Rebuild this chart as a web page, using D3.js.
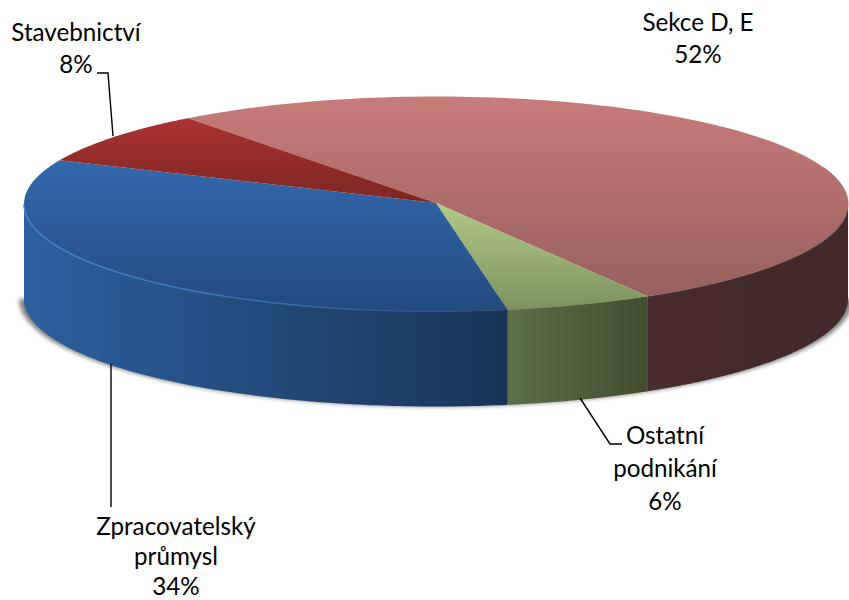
<!DOCTYPE html>
<html><head><meta charset="utf-8">
<script src="https://cdn.jsdelivr.net/npm/d3@7"></script>
<style>html,body{margin:0;padding:0;background:#fff}svg{display:block}</style>
</head><body><svg id="c" width="849" height="600"></svg>
<script>
const categories = ["Sekce D, E", "Ostatní podnikání", "Zpracovatelský průmysl", "Stavebnictví"];
const values = [51.7, 5.8, 34.45, 8.05];
const labelLines = [["Sekce D, E"], ["Ostatní", "podnikání"], ["Zpracovatelský", "průmysl"], ["Stavebnictví"]];
const topColorsStart = ["#c77c79", "#b2c986", "#3369ad", "#ab3232"];
const topColorsEnd = ["#98605e", "#7d9260", "#234b7f", "#7d2625"];
const wallColorsStart = ["#472d2c", "#5c7048", "#2c619f", "#000"];
const wallColorsEnd = ["#422a2a", "#414e2f", "#1a3357", "#000"];
const labelX = [698, 665, 176, 76];
const labelBaselines = [[31, 63], [444, 477, 510], [535, 565, 595], [41, 73]];
const leaders = [null, [[580,398],[610,444],[622,444]], [[111,364],[111,507]], [[97,73],[108,73],[113,136]]];

const W = 849, H = 600, cx = 436, cy = 204, rx = 412, ry = 107.5, depth = 95;
const deg = Math.PI / 180;
const svg = d3.select("#c");
const defs = svg.append("defs");
const x = d3.scaleLinear().domain([-1, 1]).range([cx - rx, cx + rx]);
const y = d3.scaleLinear().domain([-1, 1]).range([cy - ry, cy + ry]);
const pie = d3.pie().sort(null).startAngle(-37 * deg).endAngle(323 * deg);
const arcs = pie(values);

const px = a => x(Math.sin(a));
const py = a => y(-Math.cos(a));
const line = d3.line();
const sample = (a0, a1, dy = 0) => d3.range(0, 121).map(i => {
  const a = a0 + (a1 - a0) * i / 120;
  return [px(a), py(a) + dy];
});

function grad(id, c0, c1, horizontal) {
  const g = defs.append("linearGradient").attr("id", id)
    .attr("x1", 0).attr("y1", 0).attr("x2", horizontal ? 1 : 0).attr("y2", horizontal ? 0 : 1);
  g.append("stop").attr("offset", 0).attr("stop-color", c0);
  g.append("stop").attr("offset", 1).attr("stop-color", c1);
}
arcs.forEach((d, i) => {
  grad("top" + i, topColorsStart[i], topColorsEnd[i], false);
  grad("wall" + i, wallColorsStart[i], wallColorsEnd[i], true);
});
defs.append("filter").attr("id", "blur").attr("x", "-5%").attr("y", "-10%").attr("width", "110%").attr("height", "120%")
  .append("feGaussianBlur").attr("stdDeviation", 2.2);
const rimG = defs.append("linearGradient").attr("id", "rimBlue").attr("gradientUnits", "userSpaceOnUse")
  .attr("x1", cx - rx).attr("x2", 508).attr("y1", 0).attr("y2", 0);
rimG.append("stop").attr("offset", 0).attr("stop-color", "#4a86cc");
rimG.append("stop").attr("offset", 0.55).attr("stop-color", "#3a6fae");
rimG.append("stop").attr("offset", 1).attr("stop-color", "#2b5a94").attr("stop-opacity", 0);

// soft shadow behind the body
svg.append("path")
  .attr("d", line(sample(90 * deg, 270 * deg, depth)) + "Z")
  .attr("fill", "#808080").attr("filter", "url(#blur)")
  .attr("transform", `translate(${cx} ${cy + depth}) scale(1.012 1) translate(${-cx} ${-cy - depth})`);

// walls
svg.append("g").selectAll("path")
  .data(arcs.filter(d => d.startAngle < 270 * deg && d.endAngle > 90 * deg))
  .join("path")
  .attr("d", d => {
    const a0 = Math.max(d.startAngle, 90 * deg), a1 = Math.min(d.endAngle, 270 * deg);
    return line(sample(a0, a1).concat(sample(a1, a0, depth))) + "Z";
  })
  .attr("fill", d => `url(#wall${d.index})`);

// top faces
svg.append("g").selectAll("path")
  .data(arcs)
  .join("path")
  .attr("d", d => line([[cx, cy - 1]].concat(sample(d.startAngle, d.endAngle))) + "Z")
  .attr("fill", d => `url(#top${d.index})`);

// rim light on the edges
svg.append("path")
  .attr("d", line(sample(arcs[2].startAngle, 270 * deg)))
  .attr("fill", "none").attr("stroke", "url(#rimBlue)").attr("stroke-width", 1.4);
svg.append("path")
  .attr("d", line(sample(70 * deg, arcs[0].endAngle)))
  .attr("fill", "none").attr("stroke", "#8a6664").attr("stroke-width", 1.2).attr("opacity", 0.6);

// leader lines
svg.append("g").selectAll("path")
  .data(leaders.filter(Boolean))
  .join("path")
  .attr("d", d => line(d))
  .attr("fill", "none").attr("stroke", "#000").attr("stroke-width", 1.4);

// labels
const fmt = d3.format(".0f");
const labels = svg.append("g").attr("font-family", "Lato, Carlito, sans-serif").attr("font-size", 24.2)
  .attr("fill", "#000").attr("text-anchor", "middle");
categories.forEach((c, i) => {
  const lines = labelLines[i].concat(fmt(values[i]) + "%");
  lines.forEach((t, j) => {
    labels.append("text").attr("x", labelX[i]).attr("y", labelBaselines[i][j]).text(t);
  });
});
</script></body></html>
